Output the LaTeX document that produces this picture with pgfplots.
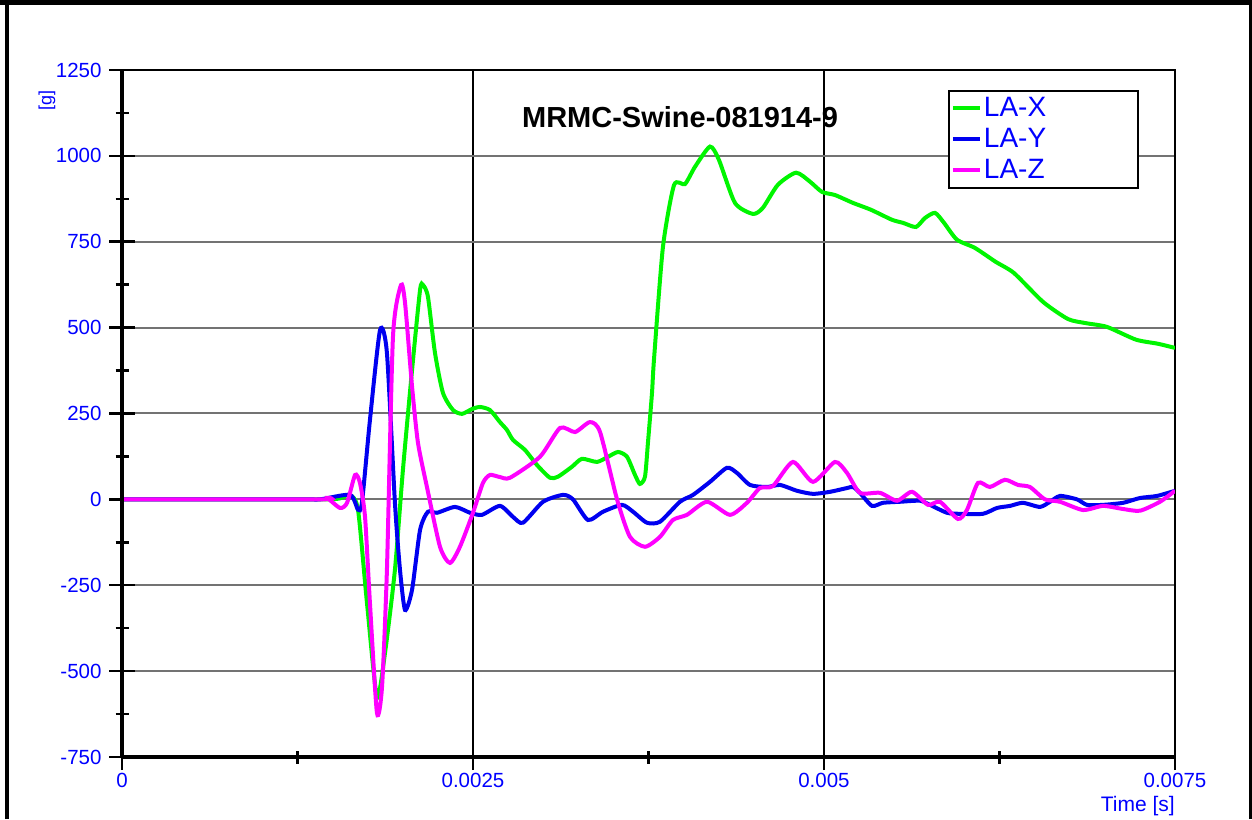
\documentclass[border=0pt]{standalone}
\usepackage{fontspec}
\setmainfont{Liberation Sans}
\usepackage{pgfplots}
\pgfplotsset{compat=1.18}
\definecolor{cgreen}{RGB}{0,245,0}
\definecolor{cblue}{RGB}{0,0,240}
\definecolor{cmag}{RGB}{255,0,255}
\definecolor{ctext}{RGB}{0,0,255}
\begin{document}
\begin{tikzpicture}
\useasboundingbox (0pt,0pt) rectangle (1252pt,819pt);
\draw[line width=5pt] (0pt,816.5pt) -- (1252pt,816.5pt);
\draw[line width=4pt] (7pt,0pt) -- (7pt,819pt);
\draw[line width=3pt] (1250pt,0pt) -- (1250pt,819pt);
\begin{axis}[
  at={(122pt,62pt)}, anchor=south west,
  scale only axis, width=1053pt, height=687pt,
  xmin=0, xmax=0.0075, ymin=-750, ymax=1250,
  clip mode=individual,
  scaled x ticks=false,
  xtick={0,0.0025,0.005,0.0075},
  xticklabels={0,0.0025,0.005,0.0075},
  ytick={-750,-500,-250,0,250,500,750,1000,1250},
  yticklabels={-750,-500,-250,0,250,500,750,1000,1250},
  minor x tick num=1, minor y tick num=1,
  xtick pos=bottom, ytick pos=left,
  tick align=center,
  xtick style={line width=2.5pt, black},
  ytick style={line width=2.5pt, black},
  major tick length=26pt, minor tick length=13pt,
  xmajorgrids, ymajorgrids,
  major x grid style={black, line width=1.5pt},
  major y grid style={black!55, line width=2pt},
  axis line style={line width=2pt, black},
  /pgf/number format/assume math mode=true,
  ticklabel style={font=\fontsize{20.5}{24}\selectfont, text=ctext},
  yticklabel style={anchor=east, xshift=-4pt},
  xticklabel style={anchor=north, yshift=0pt},
  legend cell align=left,
  legend style={at={(rel axis cs:0.7844,0.971)}, anchor=north west,
    draw=black, line width=2pt, font=\fontsize{28}{30}\selectfont, text=ctext,
    inner sep=2pt, row sep=0pt,
    nodes={inner sep=2pt, text height=22pt, text depth=5pt}},
  legend image code/.code={\draw[#1] (0pt,0pt) -- (27pt,0pt);},
  every axis plot/.append style={line width=4pt, smooth, tension=0.4},
]
\addplot[cgreen] coordinates {
(0,0) (0.001268,0) (0.001481,0) (0.001553,3) (0.001624,13) (0.001681,-30)
(0.001745,-302) (0.001816,-575) (0.001873,-448) (0.001944,-205) (0.002001,86)
(0.002066,377) (0.002123,610) (0.002144,624) (0.002179,590) (0.002229,427)
(0.002286,310) (0.002358,260) (0.002422,249) (0.002493,263) (0.002550,269)
(0.002621,260) (0.002692,225) (0.002742,202) (0.002785,173) (0.002870,144)
(0.002956,100) (0.003048,63) (0.003105,66) (0.003205,95) (0.003276,118)
(0.003383,109) (0.003462,124) (0.003533,138) (0.003597,124) (0.003654,71)
(0.003689,45) (0.003725,66) (0.003746,164) (0.003775,310) (0.003789,406)
(0.003853,735) (0.003932,915) (0.004010,918) (0.004081,968) (0.004188,1027)
(0.004252,988) (0.004366,863) (0.004494,831) (0.004565,849) (0.004672,916)
(0.004801,951) (0.004900,925) (0.004986,895) (0.005078,886) (0.005207,863)
(0.005335,843) (0.005484,814) (0.005563,805) (0.005655,793) (0.005719,819)
(0.005791,834) (0.005855,805) (0.005947,756) (0.006075,732) (0.006225,691)
(0.006353,659) (0.006560,575) (0.006738,525) (0.006866,513) (0.007016,502)
(0.007222,465) (0.007379,453) (0.0075,441)
};
\addlegendentry{\makebox[150pt][l]{LA-X}}
\addplot[cblue] coordinates {
(0,0) (0.001268,0) (0.001410,0) (0.001624,13) (0.001681,-30) (0.001709,-10)
(0.001766,231) (0.001838,493) (0.001887,426) (0.001944,-10) (0.001980,-205)
(0.002016,-322) (0.002066,-263) (0.002123,-89) (0.002179,-36) (0.002244,-39)
(0.002372,-22) (0.002479,-39) (0.002564,-45) (0.002692,-19) (0.002785,-51)
(0.002856,-68) (0.002999,-7) (0.003141,13) (0.003212,0) (0.003319,-60)
(0.003426,-36) (0.003561,-16) (0.003640,-36) (0.003739,-68) (0.003832,-65)
(0.003974,-7) (0.004067,13) (0.004188,51) (0.004309,92) (0.004380,77)
(0.004473,42) (0.004594,36) (0.004687,42) (0.004808,25) (0.004922,16)
(0.005043,22) (0.005164,33) (0.005207,36) (0.005256,19) (0.005342,-19)
(0.005420,-10) (0.005541,-7) (0.005684,-4) (0.005755,-16) (0.005876,-39)
(0.005969,-42) (0.006132,-42) (0.006232,-25) (0.006325,-19) (0.006417,-10)
(0.006538,-22) (0.006610,-7) (0.006681,10) (0.006802,0) (0.006873,-16)
(0.006987,-16) (0.007130,-10) (0.007251,4) (0.007372,10) (0.0075,25)
};
\addlegendentry{LA-Y}
\addplot[cmag] coordinates {
(0,0) (0.001410,0) (0.001460,4) (0.001553,-25) (0.001603,-10) (0.001660,71)
(0.001695,48) (0.001731,-51) (0.001766,-302) (0.001816,-622) (0.001852,-546)
(0.001887,-205) (0.001930,473) (0.001987,624) (0.002016,572) (0.002066,328)
(0.002108,165) (0.002172,36) (0.002265,-138) (0.002336,-185) (0.002407,-138)
(0.002500,-39) (0.002571,48) (0.002621,71) (0.002692,65) (0.002764,63)
(0.002977,124) (0.003120,208) (0.003227,196) (0.003333,225) (0.003405,196)
(0.003526,0) (0.003618,-109) (0.003725,-138) (0.003832,-109) (0.003924,-60)
(0.004024,-45) (0.004167,-7) (0.004330,-45) (0.004451,-10) (0.004544,33)
(0.004637,39) (0.004779,109) (0.004922,51) (0.005078,109) (0.005164,77)
(0.005256,19) (0.005399,19) (0.005520,-4) (0.005627,22) (0.005741,-16)
(0.005826,-7) (0.005954,-57) (0.006018,-31) (0.006097,48) (0.006182,36)
(0.006289,57) (0.006382,42) (0.006467,36) (0.006574,0) (0.006681,-7)
(0.006845,-31) (0.006987,-19) (0.007130,-28) (0.007251,-33) (0.007393,-7)
(0.0075,25)
};
\addlegendentry{LA-Z}
\draw[line width=4pt] (rel axis cs:0,0) -- (rel axis cs:0,1);
\draw[line width=4pt] (rel axis cs:0,0) -- (rel axis cs:1,0);
\node[anchor=base, font=\bfseries\fontsize{29}{31}\selectfont] at (rel axis cs:0.53,0.9156) {MRMC-Swine-081914-9};
\node[rotate=90, text=ctext, font=\fontsize{18}{20}\selectfont] at (rel axis cs:-0.0712,0.956) {[g]};
\node[anchor=east, text=ctext, font=\fontsize{21}{24}\selectfont, inner sep=0pt] at (rel axis cs:1,-0.0715) {Time [s]};
\end{axis}
\end{tikzpicture}
\end{document}
